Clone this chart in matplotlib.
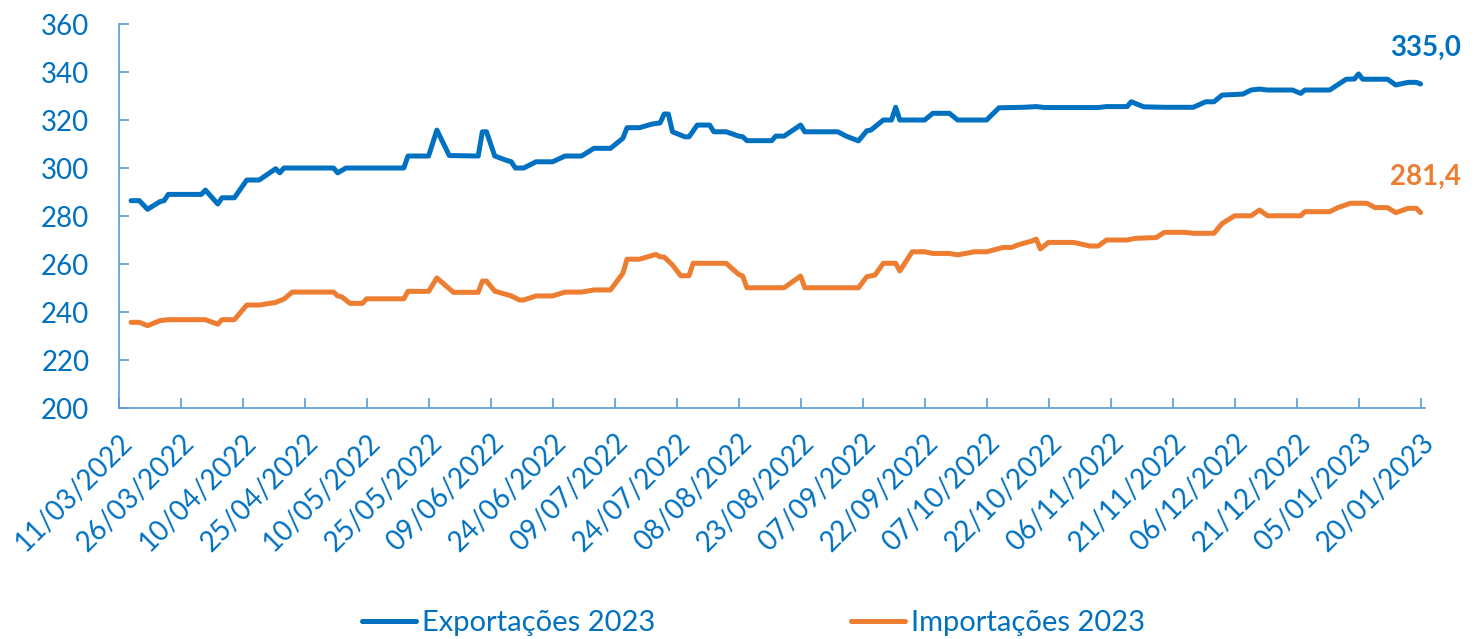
import matplotlib
matplotlib.use("Agg")
import matplotlib.pyplot as plt
import matplotlib.dates as mdates
import pandas as pd

plt.rcParams["font.family"] = ["Lato", "DejaVu Sans"]

BLUE = "#0070C0"
ORANGE = "#ED7D31"
AXIS = "#5B9BD5"

# Vertices of the two lines (dd/mm/yyyy, US$ bi)
exp_dates = [
    "14/03/2022", "16/03/2022", "18/03/2022", "21/03/2022", "22/03/2022", "23/03/2022",
    "31/03/2022", "01/04/2022", "04/04/2022", "05/04/2022", "08/04/2022", "11/04/2022",
    "14/04/2022", "18/04/2022", "19/04/2022", "20/04/2022", "02/05/2022", "03/05/2022",
    "05/05/2022", "19/05/2022", "20/05/2022", "25/05/2022", "27/05/2022", "30/05/2022",
    "06/06/2022", "07/06/2022", "08/06/2022", "10/06/2022", "13/06/2022", "14/06/2022",
    "15/06/2022", "17/06/2022", "20/06/2022", "24/06/2022", "27/06/2022", "01/07/2022",
    "04/07/2022", "08/07/2022", "11/07/2022", "12/07/2022", "15/07/2022", "18/07/2022",
    "20/07/2022", "21/07/2022", "22/07/2022", "23/07/2022", "26/07/2022", "27/07/2022",
    "29/07/2022", "01/08/2022", "02/08/2022", "05/08/2022", "08/08/2022", "09/08/2022",
    "10/08/2022", "16/08/2022", "17/08/2022", "19/08/2022", "23/08/2022", "24/08/2022",
    "01/09/2022", "03/09/2022", "06/09/2022", "08/09/2022", "09/09/2022", "12/09/2022",
    "14/09/2022", "15/09/2022", "16/09/2022", "22/09/2022", "24/09/2022", "28/09/2022",
    "30/09/2022", "07/10/2022", "10/10/2022", "16/10/2022", "19/10/2022", "21/10/2022",
    "03/11/2022", "05/11/2022", "10/11/2022", "11/11/2022", "14/11/2022", "19/11/2022",
    "26/11/2022", "29/11/2022", "01/12/2022", "03/12/2022", "08/12/2022", "10/12/2022",
    "12/12/2022", "14/12/2022", "20/12/2022", "22/12/2022", "23/12/2022", "29/12/2022",
    "02/01/2023", "04/01/2023", "05/01/2023", "06/01/2023", "12/01/2023", "14/01/2023",
    "17/01/2023", "19/01/2023", "20/01/2023",
]
exp_values = [
    286.4, 286.4, 282.8, 286.0, 286.4, 289.0,
    289.0, 290.8, 285.0, 287.6, 287.6, 295.0,
    295.0, 299.7, 298.0, 300.0, 300.0, 298.0,
    300.0, 300.0, 305.0, 305.0, 315.8, 305.2,
    305.0, 315.1, 315.1, 305.0, 303.1, 302.6,
    300.0, 300.0, 302.6, 302.6, 305.0, 305.0,
    308.2, 308.2, 312.4, 316.8, 316.8, 318.3,
    318.8, 322.5, 322.5, 315.1, 313.0, 313.0,
    317.9, 317.9, 315.1, 315.1, 313.3, 313.0,
    311.4, 311.4, 313.3, 313.3, 317.9, 315.1,
    315.1, 313.3, 311.3, 315.5, 315.8, 320.0,
    320.0, 325.3, 320.0, 320.0, 322.8, 322.8,
    320.0, 320.0, 325.1, 325.3, 325.6, 325.2,
    325.2, 325.6, 325.6, 327.6, 325.5, 325.3,
    325.3, 327.6, 327.6, 330.4, 330.8, 332.5,
    332.9, 332.5, 332.5, 331.1, 332.5, 332.5,
    337.0, 337.1, 339.2, 337.0, 337.0, 334.6,
    335.7, 335.7, 335.0,
]

imp_dates = [
    "14/03/2022", "16/03/2022", "18/03/2022", "21/03/2022", "23/03/2022", "01/04/2022",
    "04/04/2022", "05/04/2022", "08/04/2022", "11/04/2022", "14/04/2022", "18/04/2022",
    "20/04/2022", "22/04/2022", "02/05/2022", "03/05/2022", "04/05/2022", "06/05/2022",
    "09/05/2022", "10/05/2022", "19/05/2022", "20/05/2022", "25/05/2022", "27/05/2022",
    "31/05/2022", "06/06/2022", "07/06/2022", "08/06/2022", "10/06/2022", "14/06/2022",
    "16/06/2022", "17/06/2022", "20/06/2022", "24/06/2022", "27/06/2022", "01/07/2022",
    "04/07/2022", "08/07/2022", "11/07/2022", "12/07/2022", "15/07/2022", "19/07/2022",
    "20/07/2022", "21/07/2022", "23/07/2022", "25/07/2022", "27/07/2022", "28/07/2022",
    "05/08/2022", "08/08/2022", "09/08/2022", "10/08/2022", "19/08/2022", "23/08/2022",
    "24/08/2022", "06/09/2022", "08/09/2022", "10/09/2022", "12/09/2022", "15/09/2022",
    "16/09/2022", "19/09/2022", "22/09/2022", "24/09/2022", "28/09/2022", "30/09/2022",
    "04/10/2022", "07/10/2022", "11/10/2022", "13/10/2022", "15/10/2022", "18/10/2022",
    "19/10/2022", "20/10/2022", "22/10/2022", "28/10/2022", "01/11/2022", "03/11/2022",
    "05/11/2022", "10/11/2022", "12/11/2022", "17/11/2022", "19/11/2022", "24/11/2022",
    "26/11/2022", "01/12/2022", "03/12/2022", "06/12/2022", "10/12/2022", "12/12/2022",
    "14/12/2022", "22/12/2022", "23/12/2022", "29/12/2022", "31/12/2022", "03/01/2023",
    "07/01/2023", "09/01/2023", "12/01/2023", "14/01/2023", "17/01/2023", "19/01/2023",
    "20/01/2023",
]
imp_values = [
    235.7, 235.7, 234.3, 236.4, 236.8, 236.8,
    234.9, 236.8, 236.8, 242.9, 242.9, 244.0,
    245.4, 248.3, 248.3, 246.7, 246.3, 243.6,
    243.6, 245.5, 245.5, 248.6, 248.6, 254.2,
    248.2, 248.2, 252.9, 252.9, 248.7, 246.7,
    245.0, 245.0, 246.7, 246.7, 248.3, 248.3,
    249.2, 249.2, 256.1, 262.0, 262.0, 264.0,
    263.0, 262.9, 259.6, 255.1, 255.1, 260.3,
    260.3, 255.7, 255.0, 250.1, 250.1, 255.0,
    250.1, 250.1, 254.7, 255.4, 260.3, 260.3,
    257.1, 265.1, 265.1, 264.4, 264.4, 263.8,
    265.1, 265.1, 266.9, 266.9, 268.2, 269.6,
    270.4, 266.3, 269.0, 269.0, 267.5, 267.5,
    270.0, 270.0, 270.7, 271.0, 273.2, 273.2,
    272.8, 272.8, 276.9, 280.1, 280.1, 282.5,
    280.1, 280.1, 281.8, 281.8, 283.5, 285.3,
    285.3, 283.5, 283.5, 281.4, 283.2, 283.2,
    281.4,
]

series_names = ["Exportações 2023", "Importações 2023"]
y_ticks = [200, 220, 240, 260, 280, 300, 320, 340, 360]
x_start, x_end = "11/03/2022", "21/01/2023"

exp_x = pd.to_datetime(exp_dates, format="%d/%m/%Y")
imp_x = pd.to_datetime(imp_dates, format="%d/%m/%Y")
x0 = pd.to_datetime(x_start, format="%d/%m/%Y")
x1 = pd.to_datetime(x_end, format="%d/%m/%Y")
tick_dates = pd.date_range(x0, pd.to_datetime("20/01/2023", format="%d/%m/%Y"), freq="15D")

fig = plt.figure(figsize=(14.81, 6.39), dpi=100)
ax = fig.add_axes([0.0801, 0.3615, 0.8819, 0.6009])

line_kw = dict(lw=3.6, solid_joinstyle="round", solid_capstyle="round")
ax.plot(exp_x, exp_values, color=BLUE, label=series_names[0], **line_kw)
ax.plot(imp_x, imp_values, color=ORANGE, label=series_names[1], **line_kw)

# end-of-series labels
for xs, vals, col in [(exp_x, exp_values, BLUE), (imp_x, imp_values, ORANGE)]:
    ax.annotate(f"{vals[-1]:.1f}".replace(".", ","), xy=(xs[-1], vals[-1]),
                xytext=(3.6, 26), textcoords="offset points",
                ha="center", va="center", fontsize=20, fontweight="bold",
                color=col, annotation_clip=False)

ax.set_xlim(x0, x1)
ax.set_ylim(200, 360)
ax.set_yticks(y_ticks)
ax.set_xticks(tick_dates)
ax.xaxis.set_major_formatter(mdates.DateFormatter("%d/%m/%Y"))

for s in ["top", "right"]:
    ax.spines[s].set_visible(False)
for s in ["left", "bottom"]:
    ax.spines[s].set_color(AXIS)
    ax.spines[s].set_linewidth(1.2)

ax.tick_params(axis="both", direction="in", length=7, width=1.2, color=AXIS,
               labelcolor=BLUE, labelsize=20)
ax.tick_params(axis="y", pad=21)
ax.tick_params(axis="x", pad=15)
for lbl in ax.get_xticklabels():
    lbl.set_rotation(45)
    lbl.set_ha("right")
    lbl.set_va("top")
    lbl.set_rotation_mode("anchor")

leg = fig.legend(loc="center", bbox_to_anchor=(753.5 / 1481, 0.025), ncol=2,
                 frameon=False, fontsize=21, handlelength=1.85, handletextpad=0.2,
                 columnspacing=6.7, borderpad=0)
for t in leg.get_texts():
    t.set_color(BLUE)

fig.savefig("out.png", dpi=100)
